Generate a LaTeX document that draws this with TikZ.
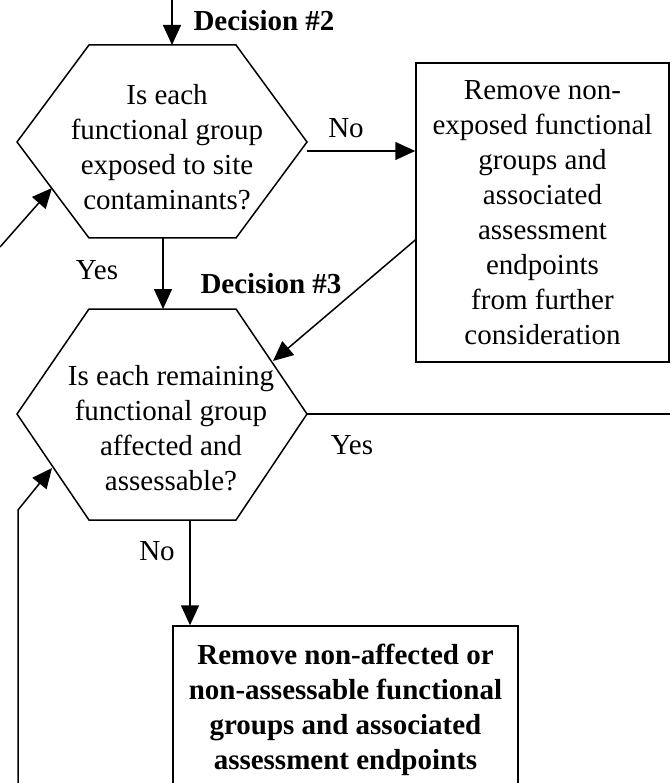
\documentclass[tikz,border=0pt]{standalone}
\usepackage{fontspec}
\setmainfont{Liberation Serif}
\usetikzlibrary{arrows.meta}
\begin{document}
\begin{tikzpicture}[x=1pt,y=-1pt,
  line width=1.5pt,
  every node/.style={font=\fontsize{29}{35}\selectfont, inner sep=0pt},
  arr/.style={-{Triangle[length=20pt,width=18pt]}},
  boxnode/.style={draw, align=center, line width=1.5pt},
  txt/.style={align=center},
  lbl/.style={font=\fontsize{29}{35}\selectfont\bfseries}]
\clip (0,0) rectangle (670,783);
% hexagon 1
\draw (89,45) coordinate (h1tl) -- (236,45) coordinate (h1tr) -- (307,142) coordinate (h1r)
  -- (236,238) coordinate (h1br) -- (89,238) coordinate (h1bl) -- (17,142) coordinate (h1l) -- cycle;
\node[txt] (q1) at (167,147) {Is each\\functional group\\exposed to site\\contaminants?};
% hexagon 2
\draw (89,309) coordinate (h2tl) -- (236,309) coordinate (h2tr) -- (307,414) coordinate (h2r)
  -- (236,520) coordinate (h2br) -- (89,520) coordinate (h2bl) -- (17,414) coordinate (h2l) -- cycle;
\node[txt] (q2) at (171,428) {Is each remaining\\functional group\\affected and\\assessable?};
% boxes
\node[boxnode, minimum width=253pt, minimum height=299pt] (box1) at (542.5,212.5)
  {Remove non-\\exposed functional\\groups and\\associated\\assessment\\endpoints\\from further\\consideration};
\node[boxnode, minimum width=345pt, minimum height=168pt, font=\fontsize{29}{35}\selectfont\bfseries] (box2) at (345.5,710)
  {Remove non-affected or\\non-assessable functional\\groups and associated\\assessment endpoints};
% labels
\node[lbl] (d2) at (264,21) {Decision \#2};
\node[lbl] (d3) at (271,284) {Decision \#3};
\node (yes1) at (97,270) {Yes};
\node (no1) at (346,128) {No};
\node (yes2) at (352,445) {Yes};
\node (no2) at (157,551) {No};
% connector coordinates
\coordinate (top) at (172,0);
\coordinate (h1in) at (172,45);
\coordinate (leftA) at (0,247);
\coordinate (h1edge) at (52,188);
\coordinate (h1out) at (307,151);
\coordinate (h1bot) at (163,238);
\coordinate (h2top) at (163,309);
\coordinate (h2edge) at (273,361);
\coordinate (rightend) at (670,414);
\coordinate (h2bot) at (190,520);
\coordinate (bl) at (18,783);
\coordinate (blc) at (18,510);
\coordinate (h2edgeL) at (52,468);
% connectors
\draw[arr] (top) -- (h1in);
\draw[arr] (leftA) -- (h1edge);
\draw[arr] (h1out) -- (box1.west |- h1out);
\draw[arr] (h1bot) -- (h2top);
\draw[arr] ([yshift=-27.5pt]box1.west) -- (h2edge);
\draw (h2r) -- (rightend);
\draw[arr] (h2bot) -- (box2.north -| h2bot);
\draw[arr] (bl) -- (blc) -- (h2edgeL);
\end{tikzpicture}
\end{document}
